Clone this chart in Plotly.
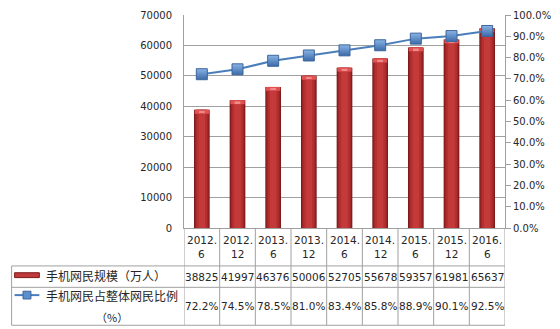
import plotly.graph_objects as go

# Mobile internet users in China, half-yearly
periods = ["2012.6", "2012.12", "2013.6", "2013.12", "2014.6",
           "2014.12", "2015.6", "2015.12", "2016.6"]
users = [38825, 41997, 46376, 50006, 52705, 55678, 59357, 61981, 65637]
share = [72.2, 74.5, 78.5, 81.0, 83.4, 85.8, 88.9, 90.1, 92.5]

bar_name = "手机网民规模（万人）"
line_name = "手机网民占整体网民比例"
line_unit = "（%）"

W, H = 560, 329
L, R, T, B = 184, 508, 9, 228          # plot area in pixels
GRID = "#a0a0a0"
TXT = "#262626"
NUM_FONT = "DejaVu Sans"
CJK_FONT = "Noto Sans CJK SC"


def px(x):
    return (x - L) / (R - L)


def py(y):
    return (B - y) / (B - T)


fig = go.Figure()

# cylinder-style bars: stacked layers from dark edge to bright centre
layers = [(0.44, "#7d1a1a"), (0.38, "#9e2626"), (0.30, "#b43030"),
          (0.18, "#c43a3a")]
for w, c in layers:
    fig.add_trace(go.Bar(x=periods, y=users, width=w, marker_color=c,
                         marker_line_width=0, hoverinfo="skip",
                         showlegend=False, yaxis="y"))
cap = 1300
fig.add_trace(go.Bar(x=periods, y=[cap] * len(users),
                     base=[v - cap for v in users], width=0.40,
                     marker_color="#e05252", marker_line_width=0,
                     showlegend=False, yaxis="y"))
fig.add_trace(go.Bar(x=periods, y=[cap * 0.45] * len(users),
                     base=[v - cap * 0.75 for v in users], width=0.16,
                     marker_color="#f08a8a", marker_line_width=0,
                     showlegend=False, yaxis="y"))

fig.add_trace(go.Scatter(
    x=periods, y=[s / 100 for s in share], yaxis="y2", mode="lines+markers",
    line=dict(color="#4a7ebb", width=2),
    marker=dict(symbol="square", size=11, color="#8ab4e6",
                gradient=dict(type="vertical", color="#3a6aa8"),
                line=dict(color="#3d6699", width=1)),
    showlegend=False))

fig.update_layout(
    width=W, height=H, barmode="overlay",
    margin=dict(l=L, r=W - R, t=T, b=H - B, pad=0),
    paper_bgcolor="white", plot_bgcolor="white",
    font=dict(family=NUM_FONT, size=10, color=TXT),
    xaxis=dict(type="category", range=[-0.5, len(periods) - 0.5],
               showticklabels=False, showgrid=False, zeroline=False,
               showline=True, linecolor=GRID, linewidth=1, mirror=False),
    yaxis=dict(range=[0, 70000], dtick=10000, tickformat="d",
               showgrid=True, gridcolor=GRID, gridwidth=1, zeroline=False,
               showline=True, linecolor=GRID, linewidth=1,
               ticks="", ticklabelstandoff=9,
               tickfont=dict(family=NUM_FONT, size=10, color=TXT)),
    yaxis2=dict(range=[0, 1], dtick=0.1, tickformat=".1%",
                overlaying="y", side="right", showgrid=False,
                zeroline=False, showline=True, linecolor=GRID,
                linewidth=1, ticks="outside", ticklen=5, tickcolor=GRID,
                tickfont=dict(family=NUM_FONT, size=10, color=TXT)),
)

# data table under the plot
shapes = []
y_head, y_r1, y_r2, y_bot = 228, 267, 289, 328
for yy in (y_r1, y_r2, y_bot):
    shapes.append(dict(type="line", xref="paper", yref="paper",
                       x0=px(10), x1=px(R), y0=py(yy), y1=py(yy),
                       line=dict(color=GRID, width=1)))
for i in range(len(periods) + 1):
    shapes.append(dict(type="line", xref="x", yref="paper",
                       x0=i - 0.5, x1=i - 0.5, y0=py(y_head), y1=py(y_bot),
                       line=dict(color=GRID, width=1)))
shapes.append(dict(type="line", xref="paper", yref="paper",
                   x0=px(10), x1=px(10), y0=py(y_r1), y1=py(y_bot),
                   line=dict(color=GRID, width=1)))

# legend keys inside the table
shapes.append(dict(type="rect", xref="paper", yref="paper",
                   x0=px(13), x1=px(38), y0=py(279), y1=py(274),
                   fillcolor="#c0393b", line=dict(color="#7d1a1a", width=1)))
shapes.append(dict(type="line", xref="paper", yref="paper",
                   x0=px(13), x1=px(38), y0=py(297), y1=py(297),
                   line=dict(color="#4a7ebb", width=2)))
shapes.append(dict(type="rect", xref="paper", yref="paper",
                   x0=px(21.5), x1=px(29.5), y0=py(301), y1=py(293),
                   fillcolor="#5b8fd0", line=dict(color="#3d6699", width=1)))


def cell(xv, yv, text, xref="x", xanchor="center", family=NUM_FONT,
         size=10.5):
    return dict(x=xv, xref=xref, y=py(yv), yref="paper", text=text,
                showarrow=False, xanchor=xanchor, yanchor="middle",
                font=dict(family=family, size=size, color=TXT))


ann = []
for i, (p, u, s) in enumerate(zip(periods, users, share)):
    yr, mo = p.split(".")
    ann.append(cell(i, 240, yr + "."))
    ann.append(cell(i, 255, mo))
    ann.append(cell(i, 278, f"{u}"))
    ann.append(cell(i, 308.5, f"{s:.1f}%"))

ann.append(cell(px(43), 277, bar_name, xref="paper", xanchor="left",
                family=CJK_FONT, size=12))
ann.append(cell(px(43), 297, line_name, xref="paper", xanchor="left",
                family=CJK_FONT, size=12))
ann.append(cell(px(111), 320, line_unit, xref="paper", family=CJK_FONT,
                size=11))

fig.update_layout(shapes=shapes, annotations=ann)
fig.write_html("out.html")
